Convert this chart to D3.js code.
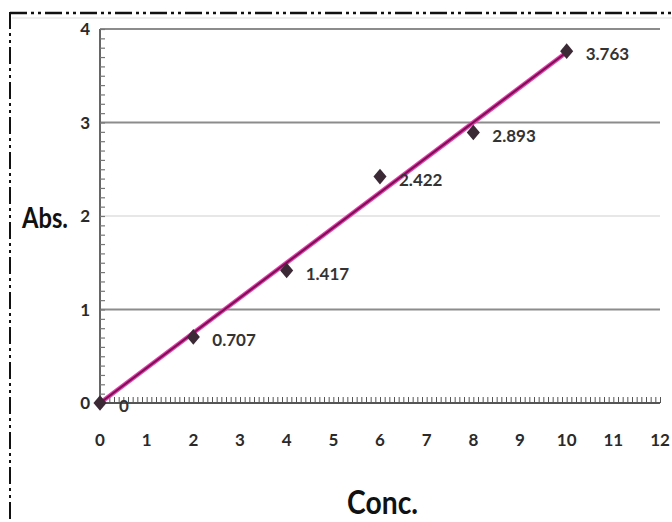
<!DOCTYPE html>
<html><head><meta charset="utf-8">
<script src="https://cdn.jsdelivr.net/npm/d3@7"></script>
<style>html,body{margin:0;padding:0;background:#fff;}svg{display:block;}</style>
</head><body>
<script>
const concentrations = [0, 2, 4, 6, 8, 10];
const absorbance = [0, 0.707, 1.417, 2.422, 2.893, 3.763];
const pointLabels = ["0", "0.707", "1.417", "2.422", "2.893", "3.763"];
const xTicks = [0,1,2,3,4,5,6,7,8,9,10,11,12];
const yTicks = [0,1,2,3,4];

const W = 672, H = 522;
const svg = d3.select("body").append("svg").attr("width", W).attr("height", H);
const x = d3.scaleLinear().domain([0, 12]).range([100, 660]);
const y = d3.scaleLinear().domain([0, 4]).range([403, 29]);

// outer dash-dot border
svg.append("line").attr("x1", 10).attr("x2", W).attr("y1", 13).attr("y2", 13)
  .attr("stroke", "#111").attr("stroke-width", 2.5).attr("stroke-dasharray", "17,4,3,4,3,4");
svg.append("line").attr("x1", 12).attr("x2", W).attr("y1", 18).attr("y2", 18)
  .attr("stroke", "#ddd").attr("stroke-width", 1);
svg.append("line").attr("x1", 10).attr("x2", 10).attr("y1", 12).attr("y2", H)
  .attr("stroke", "#111").attr("stroke-width", 2).attr("stroke-dasharray", "17,4,3,4,3,4");

// gridlines
const grid = svg.append("g");
yTicks.filter(d => d > 0).forEach(d => {
  grid.append("line").attr("x1", x(0)).attr("x2", x(12)).attr("y1", y(d)).attr("y2", y(d))
    .attr("stroke", d === 2 ? "#cfcfcf" : "#8c8c8c").attr("stroke-width", d === 2 ? 1 : 2);
});

// y axis with inside minor ticks
const yAxis = d3.axisRight(y).tickValues(d3.range(0, 4.001, 0.1)).tickSize(5).tickFormat("");
const gy = svg.append("g").attr("transform", `translate(${x(0)},0)`).call(yAxis);
gy.select(".domain").attr("stroke", "#666").attr("stroke-width", 2).attr("d", `M0,${y(0)}V${y(4)}`);
gy.selectAll(".tick line").attr("stroke", "#777").attr("stroke-width", 1.2);

// x axis with inside minor ticks
const xAxis = d3.axisTop(x).tickValues(d3.range(0, 12.001, 0.1)).tickSize(6).tickFormat("");
const gx = svg.append("g").attr("transform", `translate(0,${y(0)})`).call(xAxis);
gx.select(".domain").attr("stroke", "#555").attr("stroke-width", 2).attr("d", `M${x(0)},0H${x(12)}`);
gx.selectAll(".tick line").attr("stroke", "#555").attr("stroke-width", 1);

// tick labels
const font = "Lato, 'Open Sans', sans-serif";
svg.append("g").selectAll("text").data(xTicks).join("text")
  .attr("x", d => x(d)).attr("y", 446).attr("text-anchor", "middle")
  .attr("font-family", font).attr("font-size", 17).attr("font-weight", 700)
  .attr("fill", "#2a2a2a").text(d => d);
svg.append("g").selectAll("text").data(yTicks).join("text")
  .attr("x", 90).attr("y", d => y(d) + 6).attr("text-anchor", "end")
  .attr("font-family", font).attr("font-size", 17).attr("font-weight", 700)
  .attr("fill", "#2a2a2a").text(d => d);

// axis titles
svg.append("text").attr("x", 22).attr("y", 228).attr("textLength", 46).attr("lengthAdjust", "spacingAndGlyphs")
  .attr("font-family", font).attr("font-size", 28).attr("font-weight", 700)
  .attr("fill", "#111").text("Abs.");
svg.append("text").attr("x", 347).attr("y", 514).attr("textLength", 71).attr("lengthAdjust", "spacingAndGlyphs")
  .attr("font-family", font).attr("font-size", 32).attr("font-weight", 700)
  .attr("fill", "#111").text("Conc.");

// linear trendline from least squares fit of the data
const n = concentrations.length;
const mx = d3.mean(concentrations), my = d3.mean(absorbance);
let sxy = 0, sxx = 0;
for (let i = 0; i < n; i++) { sxy += (concentrations[i]-mx)*(absorbance[i]-my); sxx += (concentrations[i]-mx)**2; }
const slope = sxy / sxx, intercept = my - slope * mx;
const x0 = d3.min(concentrations), x1 = d3.max(concentrations);
const trend = [[x0, Math.max(0, intercept + slope*x0)], [x1, intercept + slope*x1]];
const lineGen = d3.line().x(d => x(d[0])).y(d => y(d[1]));
svg.append("path").attr("d", lineGen(trend)).attr("stroke", "#e23fae").attr("stroke-width", 4.5).attr("fill", "none");
svg.append("path").attr("d", lineGen(trend)).attr("stroke", "#7a0f52").attr("stroke-width", 2).attr("fill", "none");

// markers (Excel-style diamond)
const excelDiamond = { draw(ctx, size) { const r = Math.sqrt(size) / 1.6;
  ctx.moveTo(0, -r * 1.08); ctx.lineTo(r * 0.9, 0); ctx.lineTo(0, r * 1.08); ctx.lineTo(-r * 0.9, 0); ctx.closePath(); } };
const pts = concentrations.map((c, i) => ({c, a: absorbance[i], lab: pointLabels[i]}));
svg.append("g").selectAll("path").data(pts).join("path")
  .attr("d", d3.symbol(excelDiamond, 135))
  .attr("transform", d => `translate(${x(d.c)},${y(d.a)})`)
  .attr("fill", "#3b2a36");

// data labels
svg.append("g").selectAll("text").data(pts).join("text")
  .attr("x", d => x(d.c) + 19).attr("y", d => y(d.a) + 9)
  .attr("font-family", font).attr("font-size", 17).attr("font-weight", 700)
  .attr("fill", "#333").text(d => d.lab);
</script>
</body></html>
